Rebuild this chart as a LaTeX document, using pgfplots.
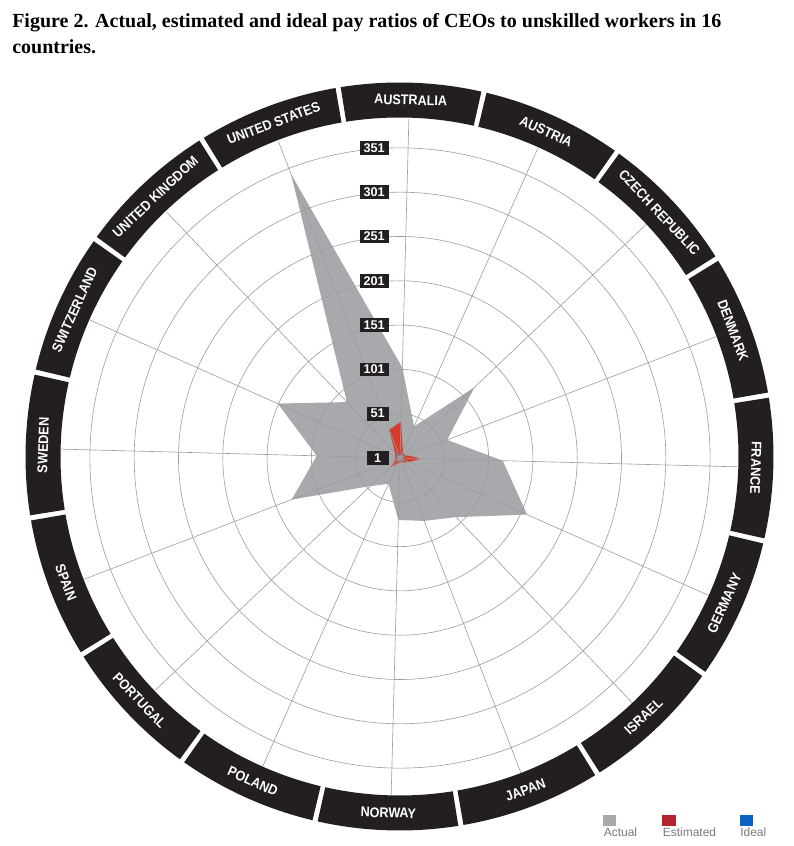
\documentclass[border=0pt]{standalone}
\usepackage{fontspec}
\setmainfont{Liberation Serif}
\newfontfamily\lab[FakeStretch=0.9]{Liberation Sans}
\newfontfamily\sans{Liberation Sans}
\usepackage{pgfplots}
\pgfplotsset{compat=1.18}
\usepgfplotslibrary{polar}
\usetikzlibrary{calc}
\usepackage{pgfplotstable}

\definecolor{actual}{HTML}{A8A9AD}
\definecolor{estim}{HTML}{D43D2B}
\definecolor{estimleg}{HTML}{B4232E}
\definecolor{ideal}{HTML}{0A63C2}
\definecolor{ring}{HTML}{231F20}
\definecolor{gridc}{HTML}{9C9C9E}
\definecolor{legtxt}{HTML}{7A7A7A}

% angle (deg, chart drawn slightly rotated) and pay ratio
\pgfplotstableread{
a     v
88.5  103
66    40
43.5  117
21    58
358.5 117
336   158
313.5 93
291   77
268.5 71
246   33
223.5 47
201   132
178.5 95
156   152
133.5 88
111   344
88.5  103
}\actualdata

\pgfplotstableread{
a     v
88.5  42
66    9
43.5  7
21    9
358.5 26
336   12
313.5 8
291   6
268.5 6
246   8
223.5 16
201   6
178.5 7
156   7
133.5 9
111   35
88.5  42
}\estimdata

\pgfplotstableread{
a     v
88.5  5
66    4
43.5  4
21    3
358.5 5
336   4
313.5 4
291   5
268.5 4
246   4
223.5 5
201   4
178.5 3
156   4
133.5 5
111   7
88.5  5
}\idealdata

\begin{document}
\begin{tikzpicture}[x=0.75pt,y=0.75pt]

\begin{polaraxis}[
  scale only axis, width=508.5pt, height=508.5pt,
  xmin=0, xmax=360, ymin=0, ymax=382.6,
  xtick={21,43.5,...,358.5},
  ytick={50,100,...,350},
  xticklabels={}, yticklabels={},
  grid=major, major grid style={gridc, line width=0.45pt},
  axis line style={draw=none}, major tick style={draw=none},
  axis on top,
  clip=false,
]
\addplot[fill=actual, draw=none] table[x=a, y expr=\thisrow{v}-1] {\actualdata};
\addplot[fill=estim, draw=none] table[x=a, y expr=\thisrow{v}-1] {\estimdata};
\addplot[fill=ideal, draw=none] table[x=a, y expr=\thisrow{v}-1] {\idealdata};
\coordinate (C) at (axis cs:0,0);
\end{polaraxis}

\pgfresetboundingbox
\begin{scope}[shift={($(C)+(-400,-388)$)}]
\path[use as bounding box] (0,0) rectangle (793,846);

\node[anchor=north west, inner sep=0pt, align=left,
      font=\fontsize{15}{19.5}\selectfont\bfseries] at (12,833)
  {Figure 2. Actual, estimated and ideal pay ratios of CEOs to unskilled workers in 16\\countries.};

% outer ring with country names
\begin{scope}[shift={(399.5,389.5)}]
\foreach \i/\name/\flip in {0/AUSTRALIA/0,1/AUSTRIA/0,2/CZECH REPUBLIC/0,3/DENMARK/0,4/FRANCE/0,
  5/GERMANY/1,6/ISRAEL/1,7/JAPAN/1,8/NORWAY/1,9/POLAND/1,10/PORTUGAL/1,11/SPAIN/1,
  12/SWEDEN/0,13/SWITZERLAND/0,14/UNITED KINGDOM/0,15/UNITED STATES/0} {
  \pgfmathsetmacro\tc{90-22.5*\i-1.8}
  \pgfmathsetmacro\ta{\tc-10.85}
  \pgfmathsetmacro\tb{\tc+10.85}
  \fill[ring] (\ta:339) arc[start angle=\ta, end angle=\tb, radius=339]
     -- (\tb:374) arc[start angle=\tb, end angle=\ta, radius=374] -- cycle;
  \pgfmathsetmacro\rot{\flip==1 ? \tc+90 : \tc-90}
  \node[text=white, font=\lab\bfseries\fontsize{10.5}{12}\selectfont, rotate=\rot, inner sep=0pt]
     at (\tc:356.5) {\name};
}
\end{scope}

% radial value labels
\foreach \v/\y in {1/388,51/432.3,101/476.6,151/520.9,201/565.2,251/609.5,301/653.8,351/698.1} {
  \node[fill=ring, text=white, font=\sans\bfseries\fontsize{9.5}{10}\selectfont,
        anchor=east, minimum width=16.5pt, inner xsep=3pt, inner ysep=1.8pt] at (389,\y) {\v};
}

% legend
\fill[actual]   (603,20) rectangle (616,31);
\fill[estimleg] (662,20) rectangle (676,31);
\fill[ideal]    (740,20) rectangle (753,31);
\node[anchor=base west, inner sep=0pt, font=\sans\fontsize{9}{10}\selectfont, text=legtxt] at (603.5,9) {Actual};
\node[anchor=base west, inner sep=0pt, font=\sans\fontsize{9}{10}\selectfont, text=legtxt] at (662.5,9) {Estimated};
\node[anchor=base west, inner sep=0pt, font=\sans\fontsize{9}{10}\selectfont, text=legtxt] at (740,9) {Ideal};
\end{scope}
\end{tikzpicture}
\end{document}
